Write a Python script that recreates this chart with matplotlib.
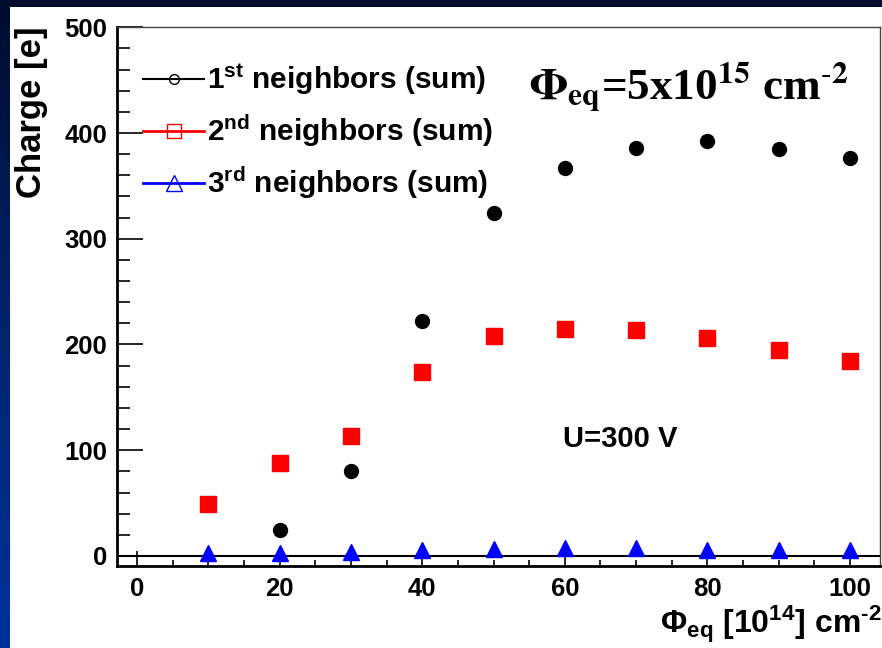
import numpy as np
import matplotlib
matplotlib.use("Agg")
import matplotlib.pyplot as plt
from matplotlib.colors import LinearSegmentedColormap
from matplotlib.patches import Rectangle
from matplotlib.lines import Line2D
from matplotlib.ticker import MultipleLocator

plt.rcParams['font.family'] = ['Liberation Sans', 'DejaVu Sans']
plt.rcParams['mathtext.fontset'] = 'custom'
plt.rcParams['mathtext.rm'] = 'Liberation Sans:bold'
plt.rcParams['mathtext.it'] = 'Liberation Sans:bold'
plt.rcParams['mathtext.bf'] = 'Liberation Sans:bold'
plt.rcParams['mathtext.sf'] = 'Liberation Sans:bold'

# Fluence points (10^14 cm^-2) and summed neighbour charge (e)
fluence = [10, 20, 30, 40, 50, 60, 70, 80, 90, 100]
fluence_first = [20, 30, 40, 50, 60, 70, 80, 90, 100]
charge_first = [25, 80, 222, 324, 367, 386, 392, 385, 376]
charge_second = [49, 88, 113, 174, 208, 215, 214, 206, 195, 184]
charge_third = [3, 3, 4, 6, 7, 7.5, 7.5, 6, 6, 6]

legend_labels = [r"1$^{\mathrm{st}}$ neighbors (sum)",
                 r"2$^{\mathrm{nd}}$ neighbors (sum)",
                 r"3$^{\mathrm{rd}}$ neighbors (sum)"]
x_ticks = [0, 20, 40, 60, 80, 100]
y_ticks = [0, 100, 200, 300, 400, 500]

W, H = 882, 648
fig = plt.figure(figsize=(W / 100, H / 100), dpi=100)

# slide-style backdrop: dark-to-blue gradient with a white panel on top
bg = fig.add_axes([0, 0, 1, 1], zorder=-10)
grad = np.linspace(0, 1, 256).reshape(-1, 1)
cmap = LinearSegmentedColormap.from_list("slide", ["#003399", "#02246e", "#000c2e"])
bg.imshow(grad, aspect='auto', cmap=cmap, extent=[0, 1, 0, 1], origin='lower')
bg.add_patch(Rectangle((10 / W, 0), 1 - 10 / W, (H - 7) / H,
                       transform=bg.transAxes, facecolor='white', edgecolor='none'))
bg.set_xlim(0, 1)
bg.set_ylim(0, 1)
bg.axis('off')

ax_left, ax_right = 117 / W, 880 / W
ax_bottom, ax_top = 1 - 566 / H, 1 - 27.3 / H
ax = fig.add_axes([ax_left, ax_bottom, ax_right - ax_left, ax_top - ax_bottom])
ax.patch.set_alpha(0)

ax.set_xlim(-2.8, 104.2)
ax.set_ylim(-9.5, 500)

ax.axhline(0, color='black', lw=1.5, zorder=1)

ax.plot(fluence_first, charge_first, ls='none', marker='o', ms=10,
        color='black', zorder=3)
ax.plot(fluence, charge_second, ls='none', marker='s', ms=12,
        color='#ff0000', zorder=3)
ax.plot(fluence, charge_third, ls='none', marker='^', ms=12,
        color='#0000ff', zorder=4)

ax.xaxis.set_minor_locator(MultipleLocator(5))
ax.yaxis.set_minor_locator(MultipleLocator(20))
ax.set_xticks(x_ticks)
ax.set_yticks(y_ticks)
ax.tick_params(axis='x', which='major', direction='in', length=10.5, width=1.2,
               pad=8, labelsize=18.5, top=False)
ax.tick_params(axis='x', which='minor', direction='in', length=4.5, width=1.2, top=False)
ax.tick_params(axis='y', which='major', direction='in', length=18.5, width=1.2,
               pad=7, labelsize=18.5, right=False)
ax.tick_params(axis='y', which='minor', direction='in', length=9.5, width=1.2, right=False)
for lab in ax.get_xticklabels() + ax.get_yticklabels():
    lab.set_fontweight('bold')

for side in ('left', 'bottom'):
    ax.spines[side].set_linewidth(2.0)
    ax.spines[side].set_color('black')
for side in ('top', 'right'):
    ax.spines[side].set_linewidth(1.0)
    ax.spines[side].set_color('#444444')

# axis titles
fig.text(31 / W, 1 - 26 / H, "Charge [e]", rotation=90, ha='center', va='top',
         fontsize=25, fontweight='bold')
fig.text(882 / W, 1 - 633 / H, r"$\Phi_{\mathrm{eq}}$ [10$^{14}$] cm$^{\text{-2}}$",
         ha='right', va='baseline', fontsize=23, fontweight='bold')

# annotations
ax.text(59.7, 103, "U=300 V", ha='left', va='baseline', fontsize=21, fontweight='bold')
fig.text(529 / W, 1 - 100 / H,
         r"$\mathbf{\Phi}_{\mathbf{eq}}$=5x10$^{\mathbf{15}}$ cm$^{\text{-}\mathbf{2}}$",
         ha='left', va='baseline', fontsize=32.5, fontweight='bold',
         family=['Liberation Serif', 'DejaVu Serif'], math_fontfamily='stix')

handles = [
    Line2D([], [], color='black', lw=1.5, marker='o', ms=7, mfc='none', mec='black'),
    Line2D([], [], color='#ff0000', lw=2.0, marker='s', ms=10, mfc='none', mec='#ff0000'),
    Line2D([], [], color='#0000ff', lw=2.0, marker='^', ms=11, mfc='none', mec='#0000ff'),
]
leg = ax.legend(handles, legend_labels, loc='upper left',
                bbox_to_anchor=(143 / W, 1 - 62 / H), bbox_transform=fig.transFigure,
                frameon=False, fontsize=21.5, handlelength=2.05, handletextpad=0.08,
                labelspacing=0.52, borderaxespad=0, borderpad=0)
for t in leg.get_texts():
    t.set_fontweight('bold')

fig.savefig("out.png", dpi=100)
